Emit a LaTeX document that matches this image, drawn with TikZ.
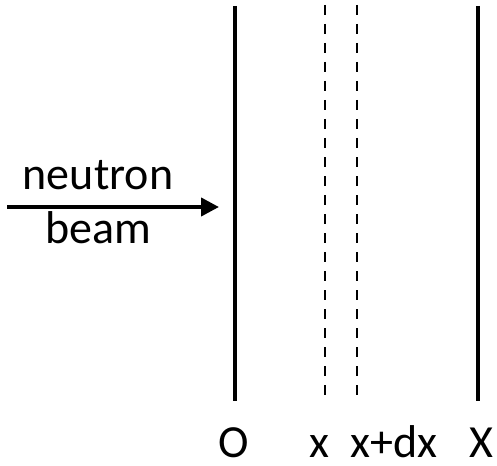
\documentclass[tikz,border=0pt]{standalone}
\usepackage{fontspec}
\setmainfont{Carlito}
\usetikzlibrary{arrows.meta}
\tikzset{
  wall/.style={line width=4pt},
  slab/.style={line width=2pt, dash pattern=on 10pt off 9pt},
  beamarrow/.style={line width=4pt, -{Triangle[length=18pt,width=18pt]}},
  toplabel/.style={anchor=base, inner sep=0pt, font=\fontsize{46}{50}\selectfont},
  axislabel/.style={anchor=base, inner sep=0pt, font=\fontsize{46}{50}\selectfont}
}
\begin{document}
\begin{tikzpicture}[x=1pt,y=-1pt]
\useasboundingbox (0,0) rectangle (497,465);
\coordinate (Otop) at (235,6);
\coordinate (Obot) at (235,401);
\coordinate (xtop) at (325,5);
\coordinate (xbot) at (325,400);
\coordinate (dxtop) at (357,5);
\coordinate (dxbot) at (357,400);
\coordinate (Xtop) at (478,6);
\coordinate (Xbot) at (478,401);
\coordinate (beamstart) at (7,207);
\coordinate (beamend) at (219,207);
\draw[wall] (Otop) -- (Obot);
\draw[wall] (Xtop) -- (Xbot);
\draw[slab] (xtop) -- (xbot);
\draw[slab] (dxtop) -- (dxbot);
\draw[beamarrow] (beamstart) -- (beamend);
\node[toplabel] (neutron) at (98,189) {neutron};
\node[toplabel] (beam) at (98,243) {beam};
\node[axislabel] (lO) at (234,457) {O};
\node[axislabel] (lx) at (319,457) {x};
\node[axislabel] (lxdx) at (394,457) {x+dx};
\node[axislabel] (lX) at (481,457) {X};
\end{tikzpicture}
\end{document}
